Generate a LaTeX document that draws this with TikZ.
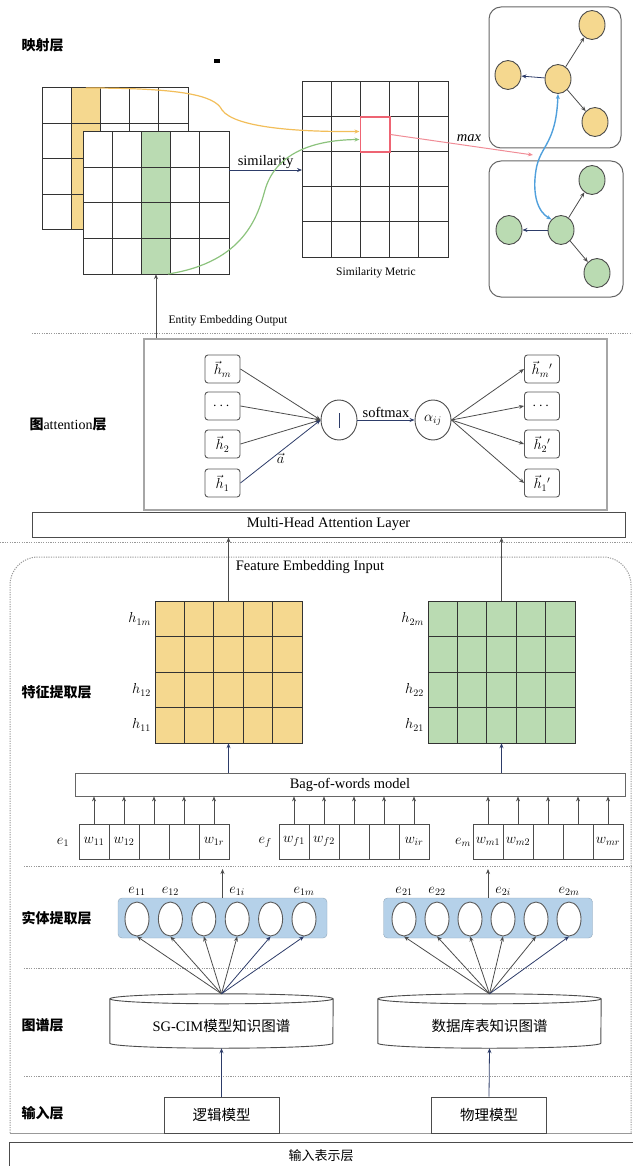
\documentclass[tikz,border=0pt]{standalone}
\usepackage{amsmath}
\usepackage{fontspec}
\setmainfont{Liberation Serif}
\newfontfamily\cjk{Noto Sans CJK SC}
\usetikzlibrary{arrows.meta, calc, positioning, shapes.geometric}
\definecolor{cellYellow}{RGB}{245,216,143}
\definecolor{cellGreen}{RGB}{186,219,178}
\definecolor{entBlue}{RGB}{181,209,233}
\definecolor{arrNavy}{RGB}{45,60,105}
\definecolor{lineGray}{gray}{0.3}
\definecolor{sepGray}{gray}{0.6}
\definecolor{maxPink}{RGB}{240,140,150}
\definecolor{pickRed}{RGB}{238,100,115}
\definecolor{curveYellow}{RGB}{242,190,90}
\definecolor{curveGreen}{RGB}{140,195,125}
\definecolor{linkBlue}{RGB}{80,160,220}

\begin{document}
\begin{tikzpicture}[x=1pt, y=-1pt, >={Stealth[length=5pt, width=4pt]},
    cell/.style={draw=black!80, line width=1pt},
    sep/.style={draw=sepGray, line width=0.9pt, dash pattern=on 1.2pt off 1.2pt},
    layer/.style={anchor=west, font=\cjk\bfseries\fontsize{14}{16}\selectfont},
    txt/.style={font=\fontsize{14.5}{17}\selectfont},
    small/.style={font=\fontsize{11.5}{13}\selectfont},
    mlab/.style={font=\fontsize{14}{16}\selectfont, inner sep=1pt},
    zh/.style={font=\cjk\fontsize{14.5}{17}\selectfont},
    vbox/.style={mlab, draw=black!65, rounded corners=3pt, line width=0.9pt, minimum width=35pt, minimum height=28pt, inner sep=0pt},
    ynode/.style={ellipse, draw=black!70, fill=cellYellow, line width=0.9pt, minimum width=26pt, minimum height=29pt, inner sep=0pt},
    gnode/.style={ynode, fill=cellGreen},
    gbox/.style={draw=black!60, line width=1pt, rounded corners=12pt, inner sep=0pt},
    ent/.style={ellipse, draw=black!65, fill=white, line width=0.9pt, minimum width=24pt, minimum height=34pt, inner sep=0pt},
    panel/.style={fill=entBlue, draw=entBlue!80!black, rounded corners=4pt, minimum width=209pt, minimum height=40pt, inner sep=0pt},
    wcell/.style={mlab, draw=black!70, line width=0.9pt, minimum width=30pt, minimum height=35pt, inner sep=0pt},
    inbox/.style={zh, draw=black!70, line width=0.9pt, minimum width=115pt, minimum height=36pt, inner sep=0pt},
    arr/.style={->, draw=lineGray, line width=0.8pt},
    narr/.style={->, draw=arrNavy, line width=0.8pt}]
    \useasboundingbox (0,0) rectangle (632,1166);

    \node[layer] (lyMap) at (18,45) {映射层};
    \node[layer] (lyAtt) at (26,425) {图{\rmfamily\mdseries attention}层};
    \node[layer] (lyFeat) at (18,692) {特征提取层};
    \node[layer] (lyEnt) at (18,918) {实体提取层};
    \node[layer] (lyKg) at (18,1025) {图谱层};
    \node[layer] (lyIn) at (18,1113) {输入层};
    \fill (214,59.5) rectangle (220,63);

    \node[minimum width=146pt, minimum height=142pt, inner sep=0pt] (mapA) at (115,159) {};
    \foreach \i/\c in {0/white, 1/cellYellow, 2/white, 3/white, 4/white}
        \foreach \j in {0,...,3}
            \draw[cell, fill=\c] ({42+\i*29.2},{88+\j*35.5}) rectangle ++(29.2,35.5);
    \node[minimum width=146pt, minimum height=142pt, inner sep=0pt] (mapB) at (156,203) {};
    \foreach \i/\c in {0/white, 1/white, 2/cellGreen, 3/white, 4/white}
        \foreach \j in {0,...,3}
            \draw[cell, fill=\c] ({83+\i*29.2},{132+\j*35.5}) rectangle ++(29.2,35.5);
    \node[minimum width=146pt, minimum height=175pt, inner sep=0pt] (simM) at (375,169.5) {};
    \foreach \i in {0,...,4}
        \foreach \j in {0,...,4}
            \draw[cell, fill=white] ({302+\i*29.2},{82+\j*35}) rectangle ++(29.2,35);
    \node[draw=pickRed, line width=1.8pt, minimum width=29.2pt, minimum height=35pt, inner sep=0pt] (pick) at (375,134.5) {};
    \node[small] (simLab) at (376,273) {Similarity Metric};

    \coordinate (simL) at (302,170);
    \draw[narr] (mapB.east |- simL) -- node[above, txt, inner sep=1pt] {similarity} (simL);
    \draw[->, curveYellow, line width=1.2pt] (85.8,88) .. controls (180,88) and (215,95) .. (222,110)
        .. controls (235,128) and (300,132) .. ([yshift=3pt]pick.west);
    \draw[->, curveGreen, line width=1.2pt] (168,274) .. controls (245,262) and (258,215) .. (265,190)
        .. controls (275,155) and (310,140) .. ([yshift=-5pt]pick.west);
    \coordinate (maxEnd) at (533,155);
    \draw[->, maxPink, line width=1pt] (pick.east) -- node[pos=0.55, above, txt, black] {\textit{max}} (maxEnd);

    \node[gbox, minimum width=132pt, minimum height=141pt] (gA) at (555,77.5) {};
    \node[gbox, minimum width=134pt, minimum height=136pt] (gB) at (556,229) {};
    \node[ynode] (yT) at (592,25) {};
    \node[ynode] (yL) at (508,75) {};
    \node[ynode] (yC) at (558,79) {};
    \node[ynode] (yB) at (595,122) {};
    \node[gnode] (nT) at (592,180) {};
    \node[gnode] (nL) at (509,230) {};
    \node[gnode] (nC) at (561,230) {};
    \node[gnode] (nB) at (597,273) {};
    \draw[arr] (yC) -- (yT);
    \draw[narr] (yC) -- (yL);
    \draw[arr] (yC) -- (yB);
    \draw[arr] (nC) -- (nT);
    \draw[narr] (nC) -- (nL);
    \draw[arr] (nC) -- (nB);
    \draw[<->, linkBlue, line width=1.4pt] (yC.south) .. controls (556,145) and (540,145) .. (536,170)
        .. controls (532,195) and (538,212) .. (nC.north west);

    \draw[sep] (32,333) -- (632,333);
    \node[draw=black!35, line width=1.3pt, minimum width=463pt, minimum height=171pt, inner sep=0pt] (att) at (375.5,424.5) {};
    \draw[arr] (att.north -| mapB.south) -- (mapB.south);
    \node[small] (eeo) at (228,321) {Entity Embedding Output};

    \node[vbox] (hl4) at (222.5,369) {$\vec{h}_m$};
    \node[vbox] (hl3) at (222.5,406) {$\cdots$};
    \node[vbox] (hl2) at (222.5,444) {$\vec{h}_2$};
    \node[vbox] (hl1) at (222.5,483) {$\vec{h}_1$};
    \node[vbox] (hr4) at (542,369) {$\vec{h}_m{}'$};
    \node[vbox] (hr3) at (542,406) {$\cdots$};
    \node[vbox] (hr2) at (542,444) {$\vec{h}_2{}'$};
    \node[vbox] (hr1) at (542,483) {$\vec{h}_1{}'$};
    \node[ellipse, draw=black!70, line width=0.9pt, minimum width=36pt, minimum height=40pt, inner sep=0pt] (cat) at (339,420) {\color{arrNavy}\rule{0.7pt}{15pt}};
    \node[ellipse, draw=black!70, line width=0.9pt, minimum width=36pt, minimum height=40pt, inner sep=0pt, mlab] (alpha) at (433,420) {$\alpha_{ij}$};
    \foreach \k in {2,3,4}
        \draw[arr] (hl\k.east) -- (cat.west);
    \draw[narr] (hl1.east) -- node[below, mlab] {$\vec{a}$} (cat.west);
    \draw[narr] (cat.east) -- node[above, txt, inner sep=2pt] {softmax} (alpha.west);
    \foreach \k in {1,...,4}
        \draw[arr] (alpha.east) -- (hr\k.west);

    \node[txt, draw=black!70, line width=1pt, minimum width=593pt, minimum height=25pt, inner sep=0pt] (mha) at (328.5,524.5) {Multi-Head Attention Layer};
    \draw[sep] (0,542) -- (632,542);
    \draw[sepGray, line width=1pt, dash pattern=on 1.2pt off 1.2pt, rounded corners=28pt] (10,1133) -- (10,557) -- (631,557) -- (631,1133);
    \draw[sepGray, line width=1pt] (10,1133) -- (632,1133);

    \node[txt] (fei) at (310,567) {Feature Embedding Input};
    \node[minimum width=147pt, minimum height=142pt, inner sep=0pt] (featA) at (228.5,672) {};
    \node[minimum width=147pt, minimum height=142pt, inner sep=0pt] (featB) at (501.5,672) {};
    \foreach \i in {0,...,4}
        \foreach \j in {0,...,3} {
            \draw[cell, fill=cellYellow] ({155+\i*29.4},{601+\j*35.5}) rectangle ++(29.4,35.5);
            \draw[cell, fill=cellGreen] ({428+\i*29.4},{601+\j*35.5}) rectangle ++(29.4,35.5);
        }
    \draw[arr] (featA.north) -- (featA.north |- mha.south);
    \draw[arr] (featB.north) -- (featB.north |- mha.south);
    \node[mlab, anchor=east] (h1m) at (152,619) {$h_{1m}$};
    \node[mlab, anchor=east] (h12) at (152,690) {$h_{12}$};
    \node[mlab, anchor=east] (h11) at (152,725) {$h_{11}$};
    \node[mlab, anchor=east] (h2m) at (425,619) {$h_{2m}$};
    \node[mlab, anchor=east] (h22) at (425,690) {$h_{22}$};
    \node[mlab, anchor=east] (h21) at (425,725) {$h_{21}$};

    \node[txt, draw=black!60, line width=0.8pt, minimum width=550pt, minimum height=23pt, inner sep=0pt] (bow) at (350,784.5) {Bag-of-words model};
    \draw[narr] (bow.north -| featA.south) -- (featA.south);
    \draw[narr] (bow.north -| featB.south) -- (featB.south);

    \foreach \g/\gx/\ex/\el/\wa/\wb/\wr in {a/79/63/e_1/w_{11}/w_{12}/w_{1r}, b/279/265/e_f/w_{f1}/w_{f2}/w_{ir}, c/473/463/e_m/w_{m1}/w_{m2}/w_{mr}} {
        \node[mlab] (e\g) at (\ex,842) {$\el$};
        \foreach \i/\wl in {1/\wa, 2/\wb, 3/{}, 4/{}, 5/\wr}
            \node[wcell] (w\g\i) at ({\gx+15+(\i-1)*30},841.5) {${\wl}$};
        \foreach \i in {1,...,5}
            \draw[arr] (w\g\i.north) -- (w\g\i.north |- bow.south);
    }

    \draw[sep] (24,866) -- (632,866);
    \coordinate (sepC) at (24,869);
    \node[panel] (pan1) at (222.5,918) {};
    \node[panel] (pan2) at (488,918) {};
    \foreach \k in {1,...,6} {
        \node[ent] (ea\k) at ({137+(\k-1)*33.4},919) {};
        \node[ent] (eb\k) at ({404+(\k-1)*33},919) {};
    }
    \node[mlab, above=5pt of ea1] (lea1) {$e_{11}$};
    \node[mlab, above=5pt of ea2] (lea2) {$e_{12}$};
    \node[mlab, above=5pt of ea4] (lea4) {$e_{1i}$};
    \node[mlab, above=5pt of ea6] (lea6) {$e_{1m}$};
    \node[mlab, above=5pt of eb1] (leb1) {$e_{21}$};
    \node[mlab, above=5pt of eb2] (leb2) {$e_{22}$};
    \node[mlab, above=5pt of eb4] (leb4) {$e_{2i}$};
    \node[mlab, above=5pt of eb6] (leb6) {$e_{2m}$};
    \draw[arr] (pan1.north) -- (pan1.north |- sepC);
    \draw[arr] (pan2.north) -- (pan2.north |- sepC);
    \draw[sep] (24,968) -- (632,968);

    \node[minimum width=223pt, minimum height=54pt, inner sep=0pt] (kg1) at (221.5,1021) {};
    \node[minimum width=223pt, minimum height=54pt, inner sep=0pt] (kg2) at (489.5,1021) {};
    \foreach \n in {kg1, kg2} {
        \draw[line width=0.9pt, draw=black!70, fill=white] ($(\n.north west)+(0,5)$) -- ($(\n.south west)+(0,-5)$)
            arc[start angle=180, end angle=0, x radius=111.5, y radius=5] -- ($(\n.north east)+(0,5)$);
        \draw[line width=0.9pt, draw=black!70, fill=white] ($(\n.north)+(0,5)$) ellipse [x radius=111.5, y radius=5];
    }
    \node[zh] (kg1t) at (221.5,1026) {{\rmfamily SG-CIM}模型知识图谱};
    \node[zh] (kg2t) at (489.5,1026) {数据库表知识图谱};
    \foreach \k/\c in {1/lineGray, 2/lineGray, 3/lineGray, 4/lineGray, 5/arrNavy, 6/arrNavy}
        \draw[->, draw=\c, line width=0.8pt] (kg1.north) -- (ea\k.south);
    \foreach \k/\c in {1/lineGray, 2/lineGray, 3/lineGray, 4/lineGray, 5/lineGray, 6/arrNavy}
        \draw[->, draw=\c, line width=0.8pt] (kg2.north) -- (eb\k.south);
    \draw[sep] (24,1076) -- (632,1076);

    \node[inbox] (in1) at (221.5,1115) {逻辑模型};
    \node[inbox] (in2) at (489,1115) {物理模型};
    \draw[narr] (in1.north) -- (kg1.south);
    \draw[narr] (in2.north) -- (kg2.south);

    \node[draw=black!70, line width=1pt, minimum width=624pt, minimum height=28pt, inner sep=0pt, font=\cjk\fontsize{13}{15}\selectfont] (inRep) at (321,1156) {输入表示层};
\end{tikzpicture}
\end{document}
